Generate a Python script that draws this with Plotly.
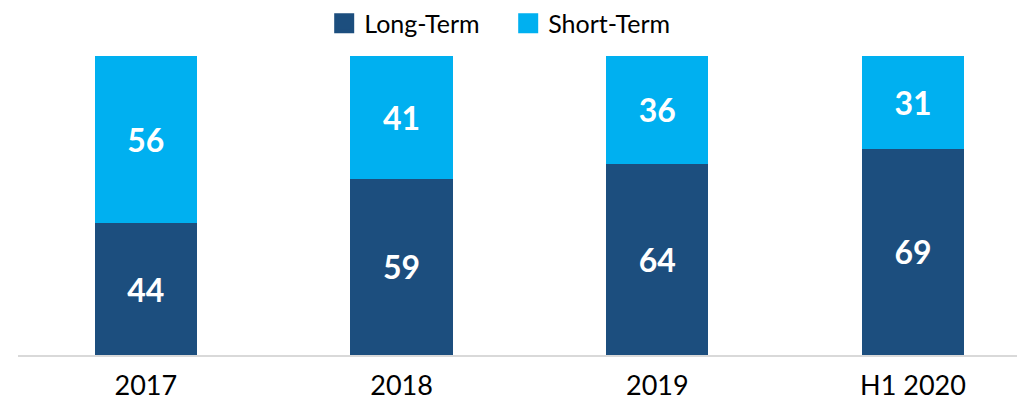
import plotly.graph_objects as go

categories = ["2017", "2018", "2019", "H1 2020"]
long_term = [44, 59, 64, 69]
short_term = [56, 41, 36, 31]

DARK = "#1C4E7E"
LIGHT = "#00B0F0"
FONT = "Lato"

fig = go.Figure()
for name, vals, col in [("Long-Term", long_term, DARK), ("Short-Term", short_term, LIGHT)]:
    fig.add_trace(go.Bar(
        x=categories, y=vals, name=name, marker=dict(color=col, line=dict(width=0)),
        width=0.4, text=vals, texttemplate="%{text}", textposition="inside",
        insidetextanchor="middle", constraintext="none",
        textfont=dict(family=FONT, size=32, color="white", weight="bold"),
        showlegend=False, hoverinfo="skip",
    ))
    # legend entry with larger square symbol
    fig.add_trace(go.Scatter(
        x=[None], y=[None], mode="markers", name=name,
        marker=dict(symbol="square", size=16, color=col, line=dict(color=col, width=4)),
        showlegend=True,
    ))

fig.update_layout(
    barmode="stack",
    width=1025, height=410,
    margin=dict(l=10, r=8, t=48, b=63),
    paper_bgcolor="white", plot_bgcolor="white",
    font=dict(family=FONT, color="black"),
    legend=dict(
        orientation="h", xref="container", yref="container",
        x=0.488, xanchor="center", y=0.962, yanchor="middle",
        font=dict(family=FONT, size=25, color="black"),
        itemsizing="trace", traceorder="normal",
        entrywidth=139, entrywidthmode="pixels",
    ),
    xaxis=dict(
        type="category", range=[-0.5, 3.438], showline=True, linecolor="#D9D9D9",
        linewidth=1.5, ticks="", showgrid=False, zeroline=False,
        tickfont=dict(family=FONT, size=27, color="black"), ticklabelstandoff=6,
    ),
    yaxis=dict(range=[0, 100], visible=False, showgrid=False, zeroline=False),
)

fig.write_html("out.html")
